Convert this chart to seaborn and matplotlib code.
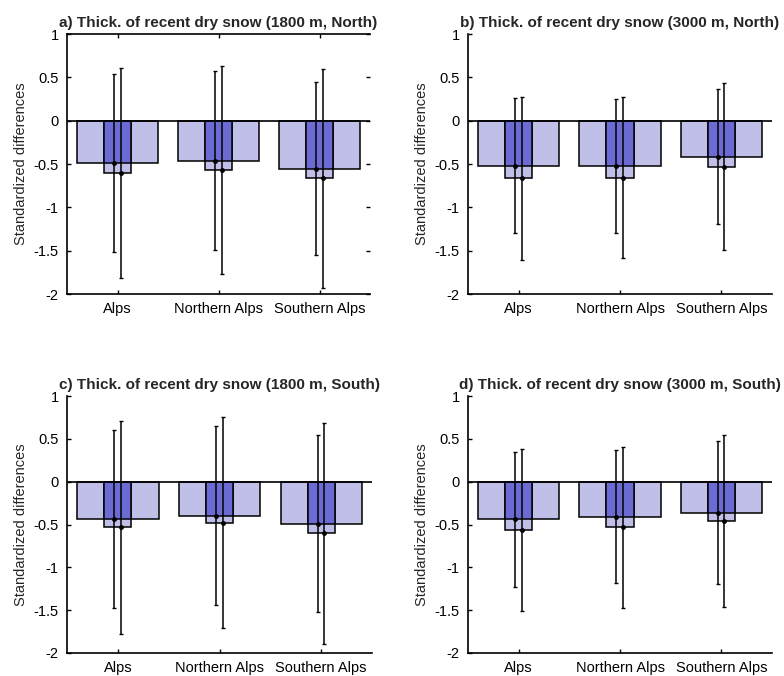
import numpy as np
import pandas as pd
import matplotlib
matplotlib.use("Agg")
import matplotlib.pyplot as plt
import seaborn as sns

# Regions shown on the x axis
categories = ["Alps", "Northern Alps", "Southern Alps"]

# Panel titles
titles = [
    "a) Thick. of recent dry snow (1800 m, North)",
    "b) Thick. of recent dry snow (3000 m, North)",
    "c) Thick. of recent dry snow (1800 m, South)",
    "d) Thick. of recent dry snow (3000 m, South)",
]

# Wide bars (first estimate) and their error half-widths
wide_a = [-0.49, -0.46, -0.555]
wide_b = [-0.52, -0.52, -0.415]
wide_c = [-0.44, -0.40, -0.49]
wide_d = [-0.44, -0.41, -0.36]
err_wide_a = [1.03, 1.03, 1.00]
err_wide_b = [0.78, 0.775, 0.775]
err_wide_c = [1.04, 1.045, 1.03]
err_wide_d = [0.785, 0.775, 0.83]

# Narrow bars (second estimate) and their error half-widths
narrow_a = [-0.60, -0.565, -0.665]
narrow_b = [-0.665, -0.66, -0.53]
narrow_c = [-0.535, -0.48, -0.60]
narrow_d = [-0.565, -0.535, -0.46]
err_narrow_a = [1.21, 1.20, 1.26]
err_narrow_b = [0.94, 0.93, 0.96]
err_narrow_c = [1.24, 1.23, 1.29]
err_narrow_d = [0.95, 0.935, 1.00]

yticks = [-2, -1.5, -1, -0.5, 0, 0.5, 1]
ytick_labels = ["-2", "-1.5", "-1", "-0.5", "0", "0.5", "1"]

panels = [
    (wide_a, narrow_a, err_wide_a, err_narrow_a),
    (wide_b, narrow_b, err_wide_b, err_narrow_b),
    (wide_c, narrow_c, err_wide_c, err_narrow_c),
    (wide_d, narrow_d, err_wide_d, err_narrow_d),
]

sns.set_style("white")
plt.rcParams["font.family"] = ["Liberation Sans", "DejaVu Sans"]
plt.rcParams["axes.unicode_minus"] = False

LIGHT = "#bfbfe7"
DARK = "#6b6bd3"

fig = plt.figure(figsize=(7.84, 6.76), dpi=100)
W, H = 784.0, 676.0
rects = [
    (67 / W, 1 - 294 / H, 303 / W, 260 / H),
    (468 / W, 1 - 294 / H, 304 / W, 260 / H),
    (67 / W, 1 - 653 / H, 305 / W, 257 / H),
    (468 / W, 1 - 653 / H, 304 / W, 257 / H),
]

for i, ((wide, narrow, ew, en), rect, title) in enumerate(zip(panels, rects, titles)):
    ax = fig.add_axes(rect)
    df = pd.DataFrame({
        "region": categories,
        "wide": wide,
        "narrow": narrow,
        "overlap": np.maximum(wide, narrow),
    })
    common = dict(data=df, x="region", ax=ax, errorbar=None, saturation=1,
                  edgecolor="black", linewidth=1.1)
    sns.barplot(y="wide", width=0.8, color=LIGHT, **common)
    sns.barplot(y="narrow", width=0.267, color=LIGHT, **common)
    sns.barplot(y="overlap", width=0.267, color=DARK, **common)

    x = np.arange(len(categories))
    ax.errorbar(x - 0.035, wide, yerr=ew, fmt="o", ms=2.5, color="black",
                ecolor="black", elinewidth=1.1, capsize=1.6, capthick=1.0, zorder=5)
    ax.errorbar(x + 0.03, narrow, yerr=en, fmt="o", ms=2.5, color="black",
                ecolor="black", elinewidth=1.1, capsize=1.6, capthick=1.0, zorder=5)

    ax.axhline(0, color="black", lw=1.2, zorder=6)
    ax.set_xlim(-0.5, 2.5)
    ax.set_ylim(-2, 1)
    ax.set_yticks(yticks)
    ax.set_yticklabels(ytick_labels)
    ax.set_xticks(x)
    ax.set_xticklabels(categories)
    ax.set_xlabel("")
    ax.set_ylabel("Standardized differences", fontsize=10.5, labelpad=4)
    ax.set_title(title, fontsize=11, fontweight="bold", pad=5)

    for side in ["left", "bottom"]:
        ax.spines[side].set_linewidth(1.2)
        ax.spines[side].set_color("black")
    ax.spines["right"].set_visible(False)
    if i == 0:
        ax.spines["top"].set_visible(True)
        ax.spines["top"].set_linewidth(1.2)
        ax.spines["top"].set_color("black")
        ax.tick_params(top=True, right=True)
    else:
        ax.spines["top"].set_visible(False)
    ax.tick_params(direction="in", length=3, width=1, labelsize=10.5,
                   colors="black", pad=6, left=True, bottom=True)
    ax.set_facecolor("white")

fig.savefig("out.png", dpi=100, facecolor="white")
